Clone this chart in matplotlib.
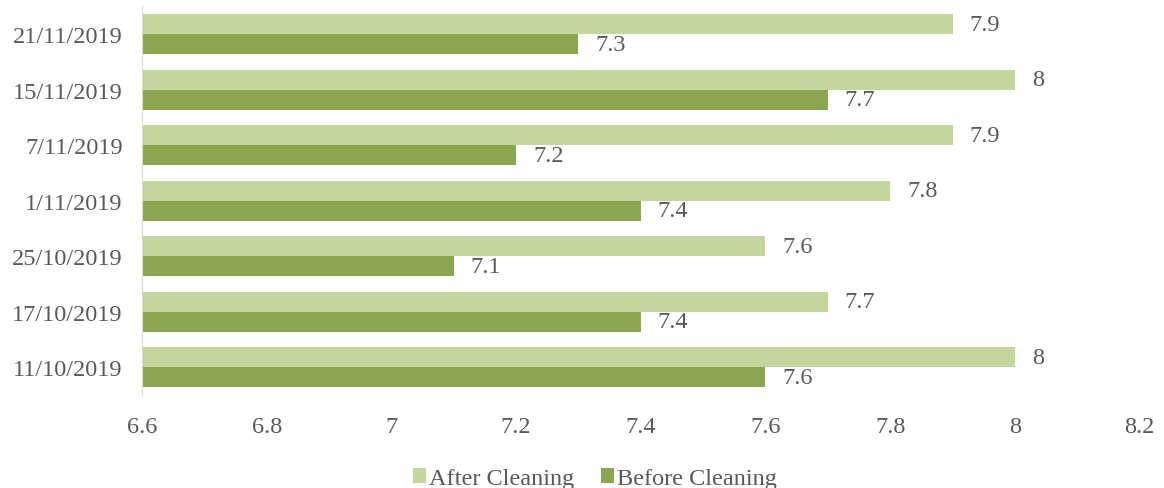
import numpy as np
import matplotlib.pyplot as plt

dates = ['11/10/2019', '17/10/2019', '25/10/2019', '1/11/2019',
         '7/11/2019', '15/11/2019', '21/11/2019']
after = [8, 7.7, 7.6, 7.8, 7.9, 8, 7.9]
before = [7.6, 7.4, 7.1, 7.4, 7.2, 7.7, 7.3]

plt.rcParams['font.family'] = 'Liberation Serif'
grey = '#595959'
light = '#c3d69b'
dark = '#8aa74f'

fig = plt.figure(figsize=(11.64, 4.89), dpi=100)
ax = fig.add_axes([0.122, 0.19, 0.857, 0.795])

y = np.arange(len(dates))
h = 0.36
base = 6.6
ax.barh(y + h / 2, np.array(after) - base, h, left=base, color=light, label='After Cleaning')
ax.barh(y - h / 2, np.array(before) - base, h, left=base, color=dark, label='Before Cleaning')

for i in range(len(dates)):
    ax.text(after[i] + 0.027, y[i] + h / 2, '%g' % after[i], va='center', ha='left',
            fontsize=17.5, color=grey)
    ax.text(before[i] + 0.027, y[i] - h / 2, '%g' % before[i], va='center', ha='left',
            fontsize=17.5, color=grey)

ax.set_xlim(6.6, 8.2)
ax.set_ylim(-0.5, len(dates) - 0.5)
ax.set_xticks(np.arange(6.6, 8.21, 0.2))
ax.set_xticklabels(['6.6', '6.8', '7', '7.2', '7.4', '7.6', '7.8', '8', '8.2'])
ax.set_yticks(y)
ax.set_yticklabels(dates)
ax.tick_params(axis='both', length=0, labelsize=17.5, labelcolor=grey)
ax.tick_params(axis='x', pad=15)
ax.tick_params(axis='y', pad=14)

for s in ['top', 'right', 'bottom']:
    ax.spines[s].set_visible(False)
ax.spines['left'].set_color('#d9d9d9')

fig.legend(loc='lower center', bbox_to_anchor=(0.511, -0.022), borderaxespad=0,
           ncol=2, frameon=False,
           fontsize=17.5, labelcolor=grey, handlelength=0.55, handleheight=0.55,
           handletextpad=0.12, columnspacing=1.1)

plt.savefig('out.png', dpi=100)
